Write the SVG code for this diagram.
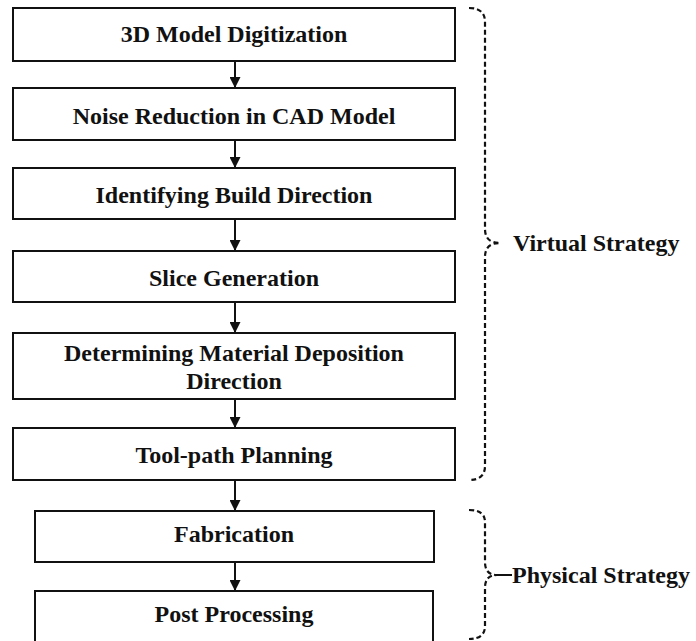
<svg xmlns="http://www.w3.org/2000/svg" width="696" height="641" viewBox="0 0 696 641">
  <style>
    .box { fill: #fff; stroke: #111; stroke-width: 2; }
    .lbl { font-family: 'Liberation Serif', 'Times New Roman', Times, 'Nimbus Roman', 'DejaVu Serif', serif; font-weight: 700; font-size: 24px; fill: #111; text-anchor: middle; }
    .side { font-family: 'Liberation Serif', 'Times New Roman', Times, 'Nimbus Roman', 'DejaVu Serif', serif; font-weight: 700; font-size: 24px; fill: #111; }
    .conn { stroke: #111; stroke-width: 2; fill: none; }
    .brace { stroke: #111; stroke-width: 2.2; fill: none; stroke-dasharray: 5 3; }
  </style>
  <defs>
    <marker id="arrow" markerWidth="11" markerHeight="11" refX="11" refY="5.5" orient="auto" markerUnits="userSpaceOnUse">
      <path d="M0,0 L11,5.5 L0,11 Z" fill="#111"/>
    </marker>
  </defs>
  <rect width="696" height="641" fill="#fff"/>

  <g id="connectors">
    <line class="conn" x1="235" y1="61" x2="235" y2="88" marker-end="url(#arrow)"/>
    <line class="conn" x1="235" y1="140" x2="235" y2="168" marker-end="url(#arrow)"/>
    <line class="conn" x1="235" y1="219" x2="235" y2="251" marker-end="url(#arrow)"/>
    <line class="conn" x1="235" y1="302" x2="235" y2="333" marker-end="url(#arrow)"/>
    <line class="conn" x1="235" y1="399" x2="235" y2="428" marker-end="url(#arrow)"/>
    <line class="conn" x1="235" y1="480" x2="235" y2="511" marker-end="url(#arrow)"/>
    <line class="conn" x1="235" y1="562" x2="235" y2="591" marker-end="url(#arrow)"/>
  </g>

  <g id="n1">
    <rect class="box" x="13" y="8" width="442" height="53"/>
    <text class="lbl" x="234" y="42" font-family="Liberation Serif, serif">3D Model Digitization</text>
  </g>
  <g id="n2">
    <rect class="box" x="13" y="88" width="442" height="52"/>
    <text class="lbl" x="234" y="124" font-family="Liberation Serif, serif">Noise Reduction in CAD Model</text>
  </g>
  <g id="n3">
    <rect class="box" x="13" y="168" width="442" height="51"/>
    <text class="lbl" x="234" y="203" font-family="Liberation Serif, serif">Identifying Build Direction</text>
  </g>
  <g id="n4">
    <rect class="box" x="13" y="251" width="442" height="51"/>
    <text class="lbl" x="234" y="286" font-family="Liberation Serif, serif">Slice Generation</text>
  </g>
  <g id="n5">
    <rect class="box" x="13" y="333" width="442" height="66"/>
    <text class="lbl" x="234" y="361" font-family="Liberation Serif, serif">Determining Material Deposition</text>
    <text class="lbl" x="234" y="389" font-family="Liberation Serif, serif">Direction</text>
  </g>
  <g id="n6">
    <rect class="box" x="13" y="428" width="442" height="52"/>
    <text class="lbl" x="234" y="463" font-family="Liberation Serif, serif">Tool-path Planning</text>
  </g>
  <g id="n7">
    <rect class="box" x="35" y="511" width="399" height="51"/>
    <text class="lbl" x="234" y="542" font-family="Liberation Serif, serif">Fabrication</text>
  </g>
  <g id="n8">
    <rect class="box" x="35" y="591" width="398" height="60"/>
    <text class="lbl" x="234" y="622" font-family="Liberation Serif, serif">Post Processing</text>
  </g>

  <g id="virtual-strategy">
    <path class="brace" d="M469,8 Q485,8 485,22 L485,229 Q485,243 500,243 Q485,243 485,257 L485,466 Q485,480 469,480"/>
    <text class="side" x="513" y="251" font-family="Liberation Serif, serif">Virtual Strategy</text>
  </g>
  <g id="physical-strategy">
    <path class="brace" d="M469,510 Q485,510 485,522 L485,562 Q485,575 497,575 Q485,575 485,588 L485,626 Q485,639 469,639"/>
    <line class="conn" x1="497" y1="575" x2="512" y2="575"/>
    <text class="side" x="512" y="583" font-family="Liberation Serif, serif">Physical Strategy</text>
  </g>
</svg>
